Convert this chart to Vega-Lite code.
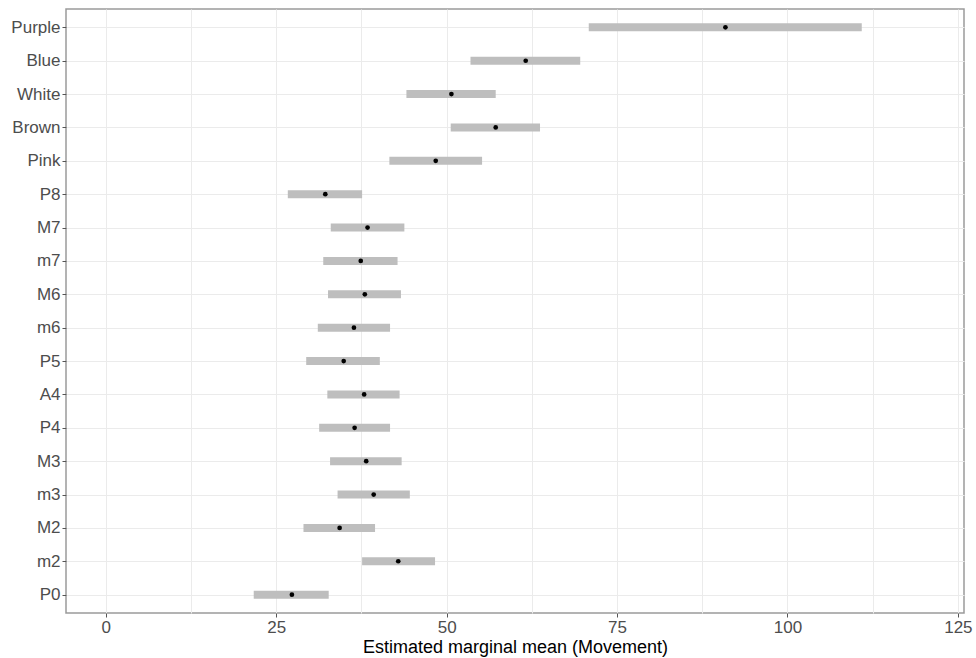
{
  "$schema": "https://vega.github.io/schema/vega-lite/v6.json",
  "width": 898,
  "height": 604,
  "autosize": {"type": "none"},
  "padding": {"left": 66, "top": 9, "right": 12, "bottom": 45},
  "background": "white",
  "config": {
    "view": {"stroke": "#9a9a9a", "strokeWidth": 1.5},
    "font": "Liberation Sans"
  },
  "data": {
    "values": [
      {"contrast": "Purple", "emmean": 90.9, "lower": 70.85, "upper": 110.9},
      {"contrast": "Blue", "emmean": 61.6, "lower": 53.5, "upper": 69.6},
      {"contrast": "White", "emmean": 50.7, "lower": 44.1, "upper": 57.2},
      {"contrast": "Brown", "emmean": 57.2, "lower": 50.6, "upper": 63.7},
      {"contrast": "Pink", "emmean": 48.4, "lower": 41.6, "upper": 55.2},
      {"contrast": "P8", "emmean": 32.2, "lower": 26.7, "upper": 37.6},
      {"contrast": "M7", "emmean": 38.4, "lower": 33.0, "upper": 43.8},
      {"contrast": "m7", "emmean": 37.4, "lower": 31.9, "upper": 42.8},
      {"contrast": "M6", "emmean": 38.0, "lower": 32.6, "upper": 43.3},
      {"contrast": "m6", "emmean": 36.4, "lower": 31.1, "upper": 41.7},
      {"contrast": "P5", "emmean": 34.9, "lower": 29.4, "upper": 40.2},
      {"contrast": "A4", "emmean": 37.9, "lower": 32.5, "upper": 43.1},
      {"contrast": "P4", "emmean": 36.5, "lower": 31.3, "upper": 41.7},
      {"contrast": "M3", "emmean": 38.2, "lower": 32.9, "upper": 43.4},
      {"contrast": "m3", "emmean": 39.3, "lower": 34.0, "upper": 44.6},
      {"contrast": "M2", "emmean": 34.3, "lower": 29.0, "upper": 39.5},
      {"contrast": "m2", "emmean": 42.9, "lower": 37.6, "upper": 48.3},
      {"contrast": "P0", "emmean": 27.3, "lower": 21.7, "upper": 32.7}
    ]
  },
  "encoding": {
    "y": {
      "field": "contrast",
      "type": "nominal",
      "sort": ["Purple", "Blue", "White", "Brown", "Pink", "P8", "M7", "m7", "M6", "m6", "P5", "A4", "P4", "M3", "m3", "M2", "m2", "P0"],
      "scale": {"type": "point", "padding": 0.55},
      "axis": {
        "title": null,
        "domain": false,
        "grid": true,
        "gridColor": "#ebebeb",
        "gridWidth": 1,
        "labelFontSize": 17,
        "labelColor": "#4d4d4d",
        "labelPadding": 2,
        "tickSize": 4,
        "tickColor": "#555555"
      }
    }
  },
  "layer": [
    {
      "mark": {"type": "rule", "strokeWidth": 8, "color": "#bebebe"},
      "encoding": {
        "x": {
          "field": "lower",
          "type": "quantitative",
          "scale": {"domain": [-5.84, 125.9], "nice": false, "zero": false},
          "axis": {
            "orient": "top",
            "title": null,
            "values": [0, 12.5, 25, 37.5, 50, 62.5, 75, 87.5, 100, 112.5, 125],
            "labels": false,
            "ticks": false,
            "domain": false,
            "grid": true,
            "gridColor": "#ebebeb",
            "gridWidth": 1
          }
        },
        "x2": {"field": "upper"}
      }
    },
    {
      "mark": {"type": "point", "filled": true, "color": "#000000", "size": 22, "opacity": 1},
      "encoding": {
        "x": {
          "field": "emmean",
          "type": "quantitative",
          "axis": {
            "orient": "bottom",
            "title": "Estimated marginal mean (Movement)",
            "values": [0, 25, 50, 75, 100, 125],
            "domain": false,
            "grid": false,
            "labelFontSize": 17,
            "labelColor": "#4d4d4d",
            "labelPadding": 2,
            "labelFlush": false,
            "labelOverlap": false,
            "tickSize": 4,
            "tickColor": "#555555",
            "titleFontSize": 18,
            "titleFontWeight": "normal",
            "titleColor": "#000000",
            "titlePadding": 3
          }
        }
      }
    }
  ],
  "resolve": {"axis": {"x": "independent"}}
}
